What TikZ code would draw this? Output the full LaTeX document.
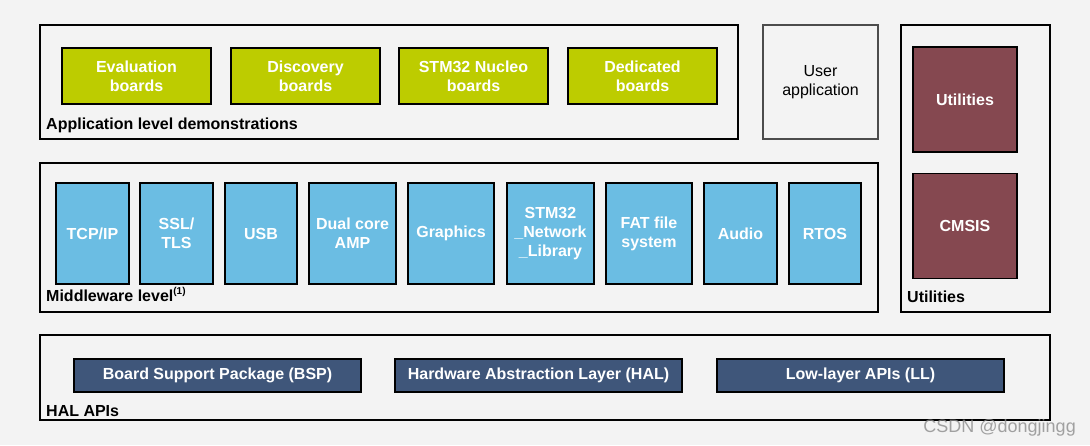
\documentclass[tikz,border=0pt]{standalone}
\usepackage{fontspec}
\setmainfont{Liberation Sans}
\definecolor{bgc}{HTML}{F3F3F3}
\definecolor{grn}{HTML}{BDCC00}
\definecolor{blu}{HTML}{6BBDE3}
\definecolor{mar}{HTML}{854850}
\definecolor{nav}{HTML}{3F567A}
\begin{document}
\begin{tikzpicture}[x=1pt,y=-1pt,
  outer/.style={draw=black,line width=1.6pt,fill=bgc,rectangle,inner sep=0pt},
  inbox/.style={draw=black,line width=1.8pt,rectangle,inner sep=0pt,align=center,text=white,
     font=\bfseries\fontsize{16}{19}\selectfont},
  gbox/.style={inbox,fill=grn,minimum width=149pt,minimum height=56pt},
  bbox/.style={inbox,fill=blu,minimum height=101pt},
  mbox/.style={inbox,fill=mar,minimum width=104pt,minimum height=105pt},
  nbox/.style={inbox,fill=nav,minimum width=287pt,minimum height=33pt,font=\bfseries\fontsize{16}{18}\selectfont},
  lbl/.style={anchor=base west,inner sep=0pt,font=\bfseries\fontsize{16}{18}\selectfont}
]
\useasboundingbox (0,0) rectangle (1090,445);
\fill[bgc] (0,0) rectangle (1090,445);
% application level
\node[outer,minimum width=698pt,minimum height=114pt] (app) at (389,82) {};
\node[gbox] (eval) at (136.5,76) {Evaluation\\boards};
\node[gbox] (disc) at (305.5,76) {Discovery\\boards};
\node[gbox] (nucl) at (473.5,76) {STM32 Nucleo\\boards};
\node[gbox] (dedi) at (642.5,76) {Dedicated\\boards};
\node[lbl] (applbl) at (46,129) {Application level demonstrations};
% user application
\node[draw=black!70,line width=1.6pt,fill=bgc,minimum width=115pt,minimum height=114pt,inner sep=0pt,
  align=center,font=\fontsize{16}{19}\selectfont] (user) at (820.5,82) {User\\application};
% utilities
\node[outer,minimum width=149pt,minimum height=287pt] (utilo) at (975.5,168.5) {};
\node[mbox] (util) at (965,99.5) {Utilities};
\node[mbox] (cmsis) at (965,226) {CMSIS};
\node[lbl] (utillbl) at (907,302) {Utilities};
% middleware
\node[outer,minimum width=838pt,minimum height=149pt] (mw) at (459,237.5) {};
\node[bbox,minimum width=73pt] (tcp) at (92.5,233.5) {TCP/IP};
\node[bbox,minimum width=73pt] (ssl) at (176.5,233.5) {SSL/\\TLS};
\node[bbox,minimum width=72pt] (usb) at (261,233.5) {USB};
\node[bbox,minimum width=87pt] (dual) at (352.5,233.5) {Dual core\\AMP};
\node[bbox,minimum width=86pt] (gfx) at (451,233.5) {Graphics};
\node[bbox,minimum width=87pt] (net) at (550.5,233.5) {STM32\\\_Network\\\_Library};
\node[bbox,minimum width=86pt] (fat) at (649,233.5) {FAT file\\system};
\node[bbox,minimum width=73pt] (aud) at (740.5,233.5) {Audio};
\node[bbox,minimum width=72pt] (rtos) at (825,233.5) {RTOS};
\node[lbl] (mwlbl) at (46,301) {Middleware level\textsuperscript{\fontsize{10}{11}\selectfont(1)}};
% HAL
\node[outer,minimum width=1010pt,minimum height=85pt] (hal) at (545,377.5) {};
\node[nbox] (bsp) at (217.5,375.5) {Board Support Package (BSP)};
\node[nbox] (hall) at (538.5,375.5) {Hardware Abstraction Layer (HAL)};
\node[nbox] (ll) at (860.5,375.5) {Low-layer APIs (LL)};
\node[lbl] (hallbl) at (46,416) {HAL APIs};
% watermark
\node[anchor=base east,inner sep=0pt,text=black!45,opacity=0.8,font=\fontsize{18}{20}\selectfont] (wm) at (1076,432) {CSDN @dongjingg};
\end{tikzpicture}
\end{document}
